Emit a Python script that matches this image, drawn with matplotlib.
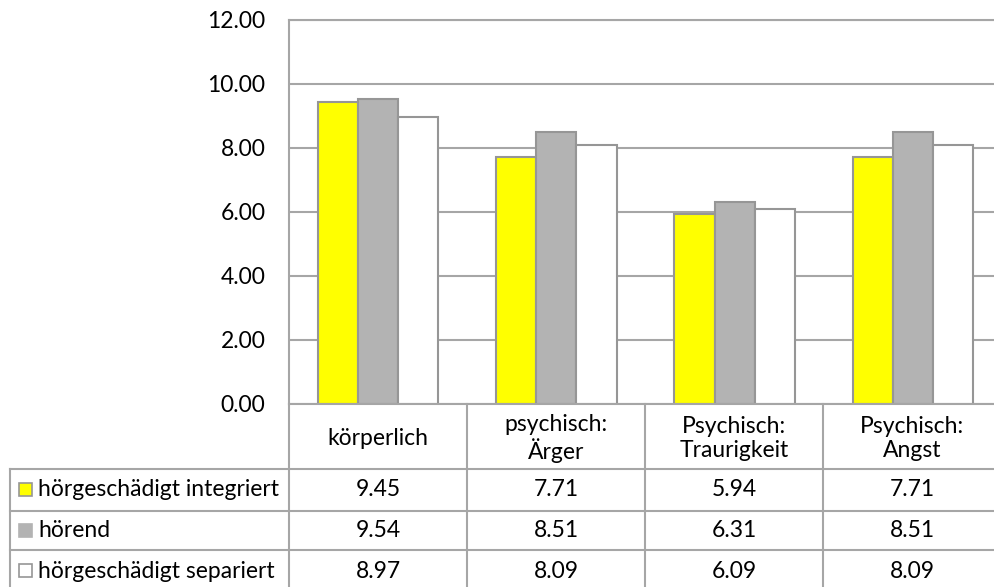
import matplotlib.pyplot as plt
import numpy as np

categories = ["körperlich", "psychisch:\nÄrger", "Psychisch:\nTraurigkeit", "Psychisch:\nAngst"]
series_names = ["hörgeschädigt integriert", "hörend", "hörgeschädigt separiert"]
integriert = [9.45, 7.71, 5.94, 7.71]
hoerend = [9.54, 8.51, 6.31, 8.51]
separiert = [8.97, 8.09, 6.09, 8.09]
y_ticks = [0, 2, 4, 6, 8, 10, 12]

series = [integriert, hoerend, separiert]
colors = ["#FFFF00", "#B3B3B3", "#FFFFFF"]
edge = "#969696"
line_col = "#A6A6A6"
font = ["Lato", "DejaVu Sans"]
fs = 16.5

W, H = 994, 587
fig = plt.figure(figsize=(W / 100, H / 100), dpi=100)

# plot area in pixel terms
left, right, top, bottom = 289, 1002, 20, 404
ax = fig.add_axes([left / W, (H - bottom) / H, (right - left) / W, (bottom - top) / H])

x = np.arange(len(categories))
bw = 0.225
for k, vals in enumerate(series):
    ax.bar(x + (k - 1) * bw, vals, width=bw, color=colors[k], edgecolor=edge,
           linewidth=1.5, zorder=3)

ax.set_xlim(-0.5, len(categories) - 0.5)
ax.set_ylim(0, 12)
ax.set_yticks(y_ticks)
ax.set_yticklabels([f"{v:.2f}" for v in y_ticks], fontsize=fs, family=font)
ax.tick_params(axis="y", length=0, pad=17)
ax.set_xticks([])
ax.yaxis.grid(True, color=line_col, linewidth=1.5, zorder=0)
for s in ["top", "left"]:
    ax.spines[s].set_color(line_col)
    ax.spines[s].set_linewidth(1.5)
ax.spines["right"].set_visible(False)
ax.spines["bottom"].set_visible(False)

# data table below, drawn in pixel coordinates
tab = fig.add_axes([0, 0, 1, 1])
tab.set_xlim(0, W)
tab.set_ylim(H, 0)
tab.axis("off")
colw = 178
rows_y = [404, 469, 511, 550, 592]
lw = 1.5
# header top line (x axis)
tab.plot([left, right], [rows_y[0], rows_y[0]], color=line_col, lw=lw)
for yy in rows_y[1:4]:
    tab.plot([10, right], [yy, yy], color=line_col, lw=lw)
tab.plot([10, 10], [rows_y[1], H], color=line_col, lw=lw)
for i in range(len(categories) + 1):
    xx = left + i * colw
    tab.plot([xx, xx], [rows_y[0], H], color=line_col, lw=lw)

for i, c in enumerate(categories):
    cx = left + (i + 0.5) * colw
    tab.text(cx, (rows_y[0] + rows_y[1]) / 2 + 2, c, ha="center", va="center",
             fontsize=fs, family=font, linespacing=1.12)
    for k, vals in enumerate(series):
        cy = (rows_y[k + 1] + rows_y[k + 2]) / 2
        tab.text(cx, cy, f"{vals[i]:.2f}", ha="center", va="center", fontsize=fs, family=font)

for k, name in enumerate(series_names):
    cy = (rows_y[k + 1] + rows_y[k + 2]) / 2
    tab.add_patch(plt.Rectangle((19, cy - 7), 13, 13, facecolor=colors[k],
                                edgecolor=edge if k != 1 else colors[k], lw=1.2))
    tab.text(38, cy, name, ha="left", va="center", fontsize=fs, family=font)

fig.savefig("out.png", dpi=100)
